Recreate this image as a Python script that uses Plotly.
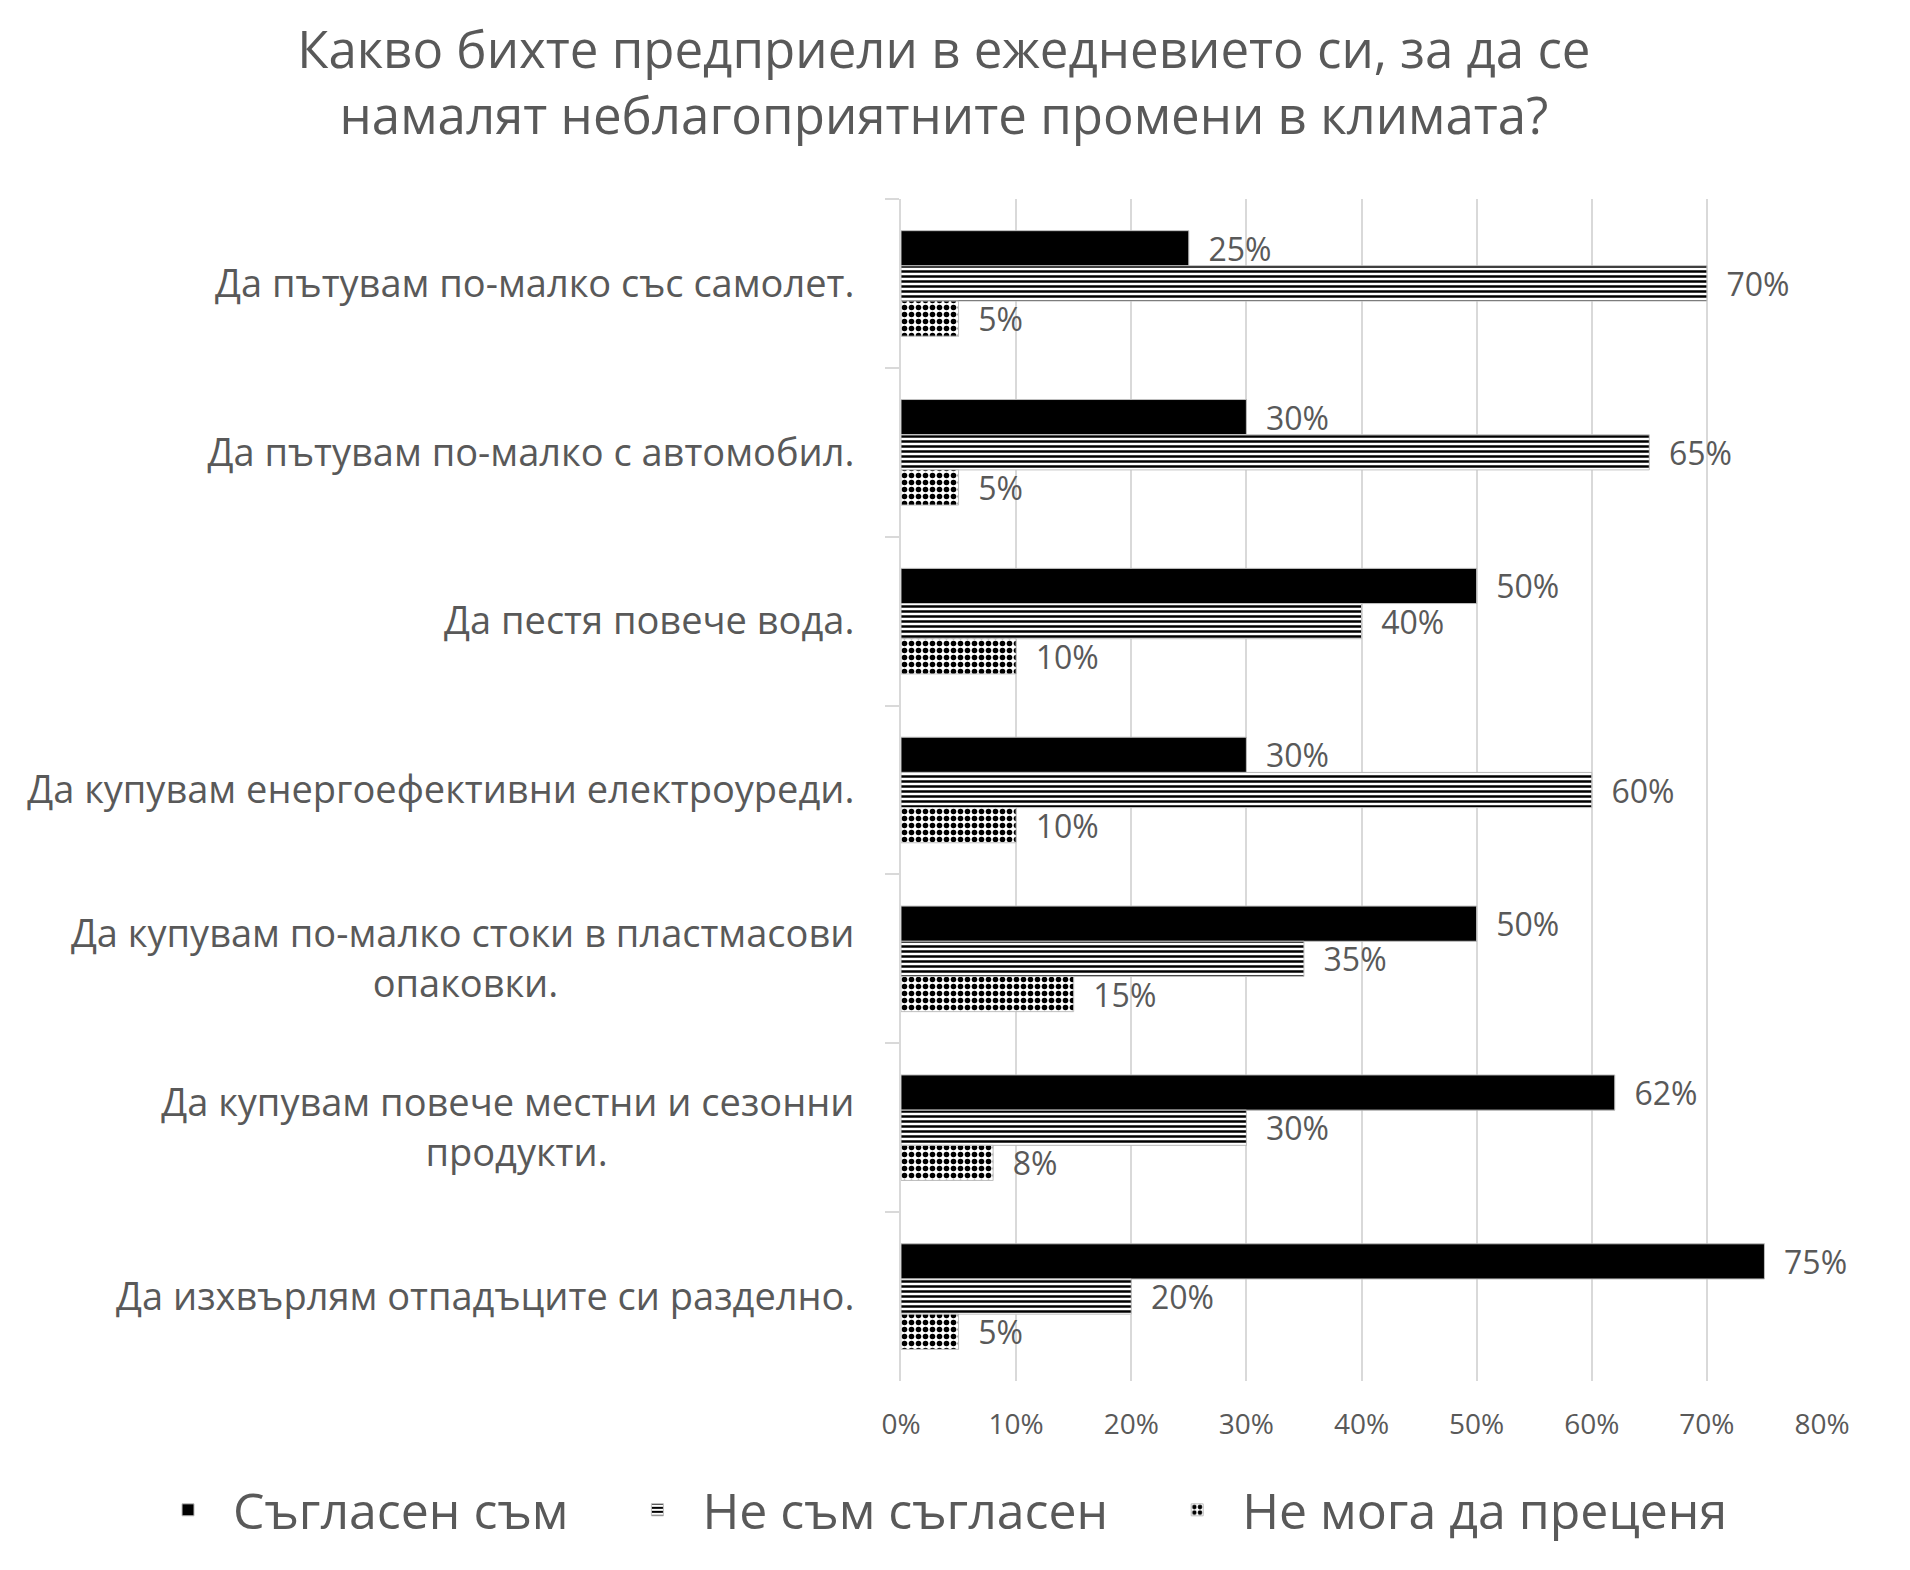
import plotly.graph_objects as go

# данни от анкетата (дял от отговорите)
categories = [
    "Да пътувам по-малко със самолет.",
    "Да пътувам по-малко с автомобил.",
    "Да пестя повече вода.",
    "Да купувам енергоефективни електроуреди.",
    "Да купувам по-малко стоки в пластмасови<br>опаковки." + "\u00a0" * 30,
    "Да купувам повече местни и сезонни<br>продукти." + "\u00a0" * 25,
    "Да изхвърлям отпадъците си разделно.",
]
agree = [0.25, 0.30, 0.50, 0.30, 0.50, 0.62, 0.75]
disagree = [0.70, 0.65, 0.40, 0.60, 0.35, 0.30, 0.20]
cant_say = [0.05, 0.05, 0.10, 0.10, 0.15, 0.08, 0.05]
series_names = ["Съгласен съм", "Не съм съгласен", "Не мога да преценя"]
x_ticks = [0, 0.1, 0.2, 0.3, 0.4, 0.5, 0.6, 0.7, 0.8]

grey_text = "#595959"
font_family = "Open Sans"

patterns = [
    dict(shape="", fgcolor="black", bgcolor="black"),
    dict(shape="-", size=5, solidity=0.5, fgcolor="black", bgcolor="white", fillmode="replace"),
    dict(shape=".", size=7, solidity=0.5, fgcolor="black", bgcolor="white", fillmode="replace"),
]

fig = go.Figure()
for name, vals, pat in zip(series_names, [agree, disagree, cant_say], patterns):
    fig.add_trace(go.Bar(
        name=name + "\u00a0" * 3,
        y=categories,
        x=vals,
        orientation="h",
        marker=dict(color="black" if pat["shape"] == "" else "white",
                    pattern=pat,
                    line=dict(color="#bfbfbf", width=1)),
        texttemplate="\u00a0\u00a0%{x:.0%}",
        textposition="outside",
        constraintext="none",
        textfont=dict(size=32, color=grey_text, family=font_family),
        cliponaxis=False,
    ))

fig.update_layout(
    width=1910,
    height=1570,
    barmode="group",
    bargap=0.375,
    bargroupgap=0,
    plot_bgcolor="white",
    paper_bgcolor="white",
    margin=dict(l=893, r=96, t=191, b=197),
    font=dict(family=font_family, color=grey_text),
    title=dict(
        text="Какво бихте предприели в ежедневието си, за да се<br>намалят неблагоприятните промени в климата?",
        font=dict(size=51, color=grey_text, family=font_family),
        x=0.49, xanchor="center",
        yref="container", y=0.962, yanchor="top",
    ),
    xaxis=dict(
        range=[0, 0.8],
        tickvals=x_ticks,
        tickformat=".0%",
        showgrid=True,
        gridcolor="#d9d9d9",
        gridwidth=2,
        zeroline=False,
        showline=False,
        ticks="",
        ticklabelstandoff=24,
        tickfont=dict(size=28, color=grey_text),
    ),
    yaxis=dict(
        autorange="reversed",
        showline=True,
        linecolor="#d9d9d9",
        linewidth=2,
        ticks="outside",
        tickson="boundaries",
        ticklen=14,
        tickcolor="#d9d9d9",
        tickwidth=2,
        ticklabelstandoff=37,
        tickfont=dict(size=38, color=grey_text),
    ),
    legend=dict(
        orientation="h",
        x=-0.823, xanchor="left",
        y=-0.109, yanchor="middle",
        itemwidth=80,
        font=dict(size=50, color=grey_text),
        traceorder="normal",
    ),
)

fig.write_html("out.html")
